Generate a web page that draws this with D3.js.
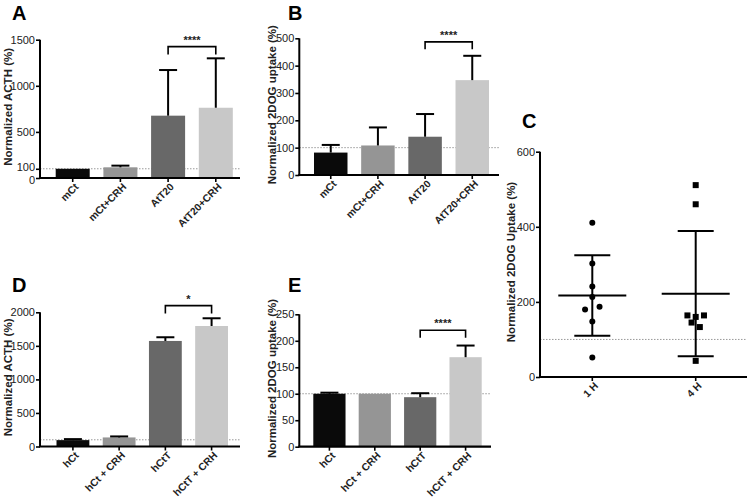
<!DOCTYPE html>
<html>
<head>
<meta charset="utf-8">
<script src="https://cdn.jsdelivr.net/npm/d3@7"></script>
<style>
  html, body { margin: 0; padding: 0; background: #fff; }
  svg { display: block; font-family: "Liberation Sans", Arial, Helvetica, sans-serif; }
</style>
</head>
<body>
<svg id="chart" width="750" height="499"></svg>
<script>
// ---------------- DATA ----------------
const catsA = ["mCt", "mCt+CRH", "AtT20", "AtT20+CRH"];
const meanA = [100, 116, 676, 762];
const errA  = [0, 18, 495, 536];
const ticksA = [0, 100, 500, 1000, 1500];

const catsB = ["mCt", "mCt+CRH", "AtT20", "AtT20+CRH"];
const meanB = [82, 108, 140, 347];
const errB  = [28, 66, 83, 89];
const ticksB = [0, 100, 200, 300, 400, 500];

const catsC = ["1 H", "4 H"];
const points1H = [411, 302, 241, 213, 180, 187, 148, 52];
const jitter1H = [0, 0, 0, 0, -0.07, 0.07, 0, 0];
const points4H = [511, 460, 164, 160, 164, 145, 133, 43];
const jitter4H = [0, 0, -0.08, 0, 0.08, -0.04, 0.04, 0];
const meanC = [217, 222];
const sdC   = [107, 167];
const ticksC = [0, 200, 400, 600];

const catsD = ["hCt", "hCt + CRH", "hCtT", "hCtT + CRH"];
const meanD = [95, 135, 1573, 1796];
const errD  = [15, 15, 55, 115];
const ticksD = [0, 500, 1000, 1500, 2000];

const catsE = ["hCt", "hCt + CRH", "hCtT", "hCtT + CRH"];
const meanE = [100, 100, 93.5, 169];
const errE  = [2, 0, 7.5, 22];
const ticksE = [0, 50, 100, 150, 200, 250];

const barColors = ["#0a0a0a", "#959595", "#686868", "#c8c8c8"];

// ---------------- DRAW ----------------
const svg = d3.select("#chart");

function yAxis(g, y, ticks, x0) {
  const ax = g.append("g").attr("transform", `translate(${x0},0)`)
    .call(d3.axisLeft(y).tickValues(ticks).tickSize(4).tickPadding(1).tickFormat(d3.format("d")));
  ax.select(".domain").attr("stroke", "#000").attr("stroke-width", 2)
    .attr("d", `M0,${y.range()[0]}V${y.range()[1]}`);
  ax.selectAll(".tick line").attr("stroke", "#000").attr("stroke-width", 1.6);
  ax.selectAll(".tick text").attr("fill", "#222").attr("font-size", 11);
  return ax;
}

function xAxisLine(g, x0, x1, y0) {
  g.append("line").attr("x1", x0 - 1).attr("x2", x1).attr("y1", y0).attr("y2", y0)
    .attr("stroke", "#000").attr("stroke-width", 2.2);
}

function xLabels(g, cats, xc, y0) {
  cats.forEach((c, i) => {
    const cx = xc(c);
    g.append("line").attr("x1", cx).attr("x2", cx).attr("y1", y0).attr("y2", y0 + 4)
      .attr("stroke", "#000").attr("stroke-width", 1.6);
    g.append("text")
      .attr("transform", `translate(${cx + 4},${y0 + 7}) rotate(-45)`)
      .attr("text-anchor", "end").attr("dy", "0.35em")
      .attr("font-size", 10.3).attr("font-weight", "bold").attr("fill", "#222")
      .text(c);
  });
}

function yTitle(g, text, cx, cy) {
  g.append("text").attr("transform", `translate(${cx},${cy}) rotate(-90)`)
    .attr("text-anchor", "middle").attr("dy", "0.35em")
    .attr("font-size", 11.5).attr("font-weight", "bold").attr("fill", "#222").text(text);
}

function panelLetter(g, text, x, y) {
  g.append("text").attr("x", x).attr("y", y).attr("font-size", 20)
    .attr("font-weight", "bold").attr("fill", "#000").text(text);
}

function refLine(g, y, x0, x1) {
  g.append("line").attr("x1", x0).attr("x2", x1).attr("y1", y(100)).attr("y2", y(100))
    .attr("stroke", "#999").attr("stroke-width", 1).attr("stroke-dasharray", "1.5,1.5");
}

function bracket(g, x, y, c1, c2, level, drop, label) {
  const xa = x(c1) + x.bandwidth() / 2, xb = x(c2) + x.bandwidth() / 2;
  const yt = y(level);
  g.append("path").attr("d", `M${xa},${yt + drop}V${yt}H${xb}V${yt + drop}`)
    .attr("fill", "none").attr("stroke", "#000").attr("stroke-width", 1.6);
  g.append("text").attr("x", (xa + xb) / 2).attr("y", yt - 3).attr("text-anchor", "middle")
    .attr("font-size", 11).attr("font-weight", "bold").attr("fill", "#222").text(label);
}

function barPanel(opt) {
  const g = svg.append("g");
  const y = d3.scaleLinear().domain(opt.domain).range([opt.yBottom, opt.yTop]);
  const x = d3.scaleBand().domain(opt.cats)
    .range([opt.bandStart, opt.bandEnd]).paddingInner(opt.pad).paddingOuter(0);
  const xc = c => x(c) + x.bandwidth() / 2;

  refLine(g, y, opt.x0, opt.x1);

  g.selectAll("rect.bar").data(opt.cats).join("rect")
    .attr("x", c => x(c)).attr("width", x.bandwidth())
    .attr("y", (c, i) => y(opt.mean[i]))
    .attr("height", (c, i) => y(0) - y(opt.mean[i]))
    .attr("fill", (c, i) => barColors[i]);

  opt.cats.forEach((c, i) => {
    if (opt.err[i] <= 0) return;
    const top = y(opt.mean[i] + opt.err[i]);
    g.append("line").attr("x1", xc(c)).attr("x2", xc(c))
      .attr("y1", y(opt.mean[i])).attr("y2", top)
      .attr("stroke", "#000").attr("stroke-width", 2);
    g.append("line").attr("x1", xc(c) - 9).attr("x2", xc(c) + 9)
      .attr("y1", top).attr("y2", top).attr("stroke", "#000").attr("stroke-width", 2);
  });

  const ax = yAxis(g, y, opt.ticks, opt.x0);
  if (opt.tightLow) {
    ax.selectAll(".tick text").attr("dy", d => d === 100 ? "0.12em" : d === 0 ? "0.5em" : "0.32em");
  }
  xAxisLine(g, opt.x0, opt.x1, y(0));
  xLabels(g, opt.cats, xc, y(0));
  yTitle(g, opt.title, opt.titleX, (opt.yTop + opt.yBottom) / 2 - 2);
  panelLetter(g, opt.letter, opt.letterX, opt.letterY);
  bracket(g, x, y, opt.cats[opt.br[0]], opt.cats[opt.br[1]], opt.brLevel, opt.brDrop, opt.brLabel);
}

barPanel({ cats: catsA, mean: meanA, err: errA, ticks: ticksA, domain: [0, 1500],
  yBottom: 178, yTop: 39.7, x0: 40, x1: 240, bandStart: 55.7, bandEnd: 232.8, pad: 0.287,
  title: "Normalized ACTH (%)", titleX: 8, letter: "A", letterX: 12, letterY: 20,
  br: [2, 3], brLevel: 1425, brDrop: 8, brLabel: "****", tightLow: true });

barPanel({ cats: catsB, mean: meanB, err: errB, ticks: ticksB, domain: [0, 500],
  yBottom: 175, yTop: 38.3, x0: 299.3, x1: 499, bandStart: 314, bandEnd: 489, pad: 0.29,
  title: "Normalized 2DOG uptake (%)", titleX: 272, letter: "B", letterX: 288, letterY: 20,
  br: [2, 3], brLevel: 487, brDrop: 7.5, brLabel: "****" });

barPanel({ cats: catsD, mean: meanD, err: errD, ticks: ticksD, domain: [0, 2000],
  yBottom: 446.5, yTop: 312.3, x0: 40, x1: 240, bandStart: 56.5, bandEnd: 228, pad: 0.29,
  title: "Normalized ACTH (%)", titleX: 8, letter: "D", letterX: 12, letterY: 292,
  br: [2, 3], brLevel: 2100, brDrop: 8, brLabel: "*" });

barPanel({ cats: catsE, mean: meanE, err: errE, ticks: ticksE, domain: [0, 250],
  yBottom: 446.7, yTop: 314.3, x0: 299.3, x1: 491, bandStart: 313.3, bandEnd: 481.7, pad: 0.29,
  title: "Normalized 2DOG uptake (%)", titleX: 272, letter: "E", letterX: 288, letterY: 292,
  br: [2, 3], brLevel: 220, brDrop: 7.5, brLabel: "****" });

// ---------------- PANEL C (scatter) ----------------
(function () {
  const g = svg.append("g");
  const x0 = 540, x1 = 747;
  const y = d3.scaleLinear().domain([0, 600]).range([377, 151.7]);
  const x = d3.scalePoint().domain(catsC).range([592.3, 695.7]);
  const unit = x.step(); // pixels per category

  refLine(g, y, x0, x1);

  const jit = [jitter1H, jitter4H];

  // mean ± SD
  catsC.forEach((c, i) => {
    const cx = x(c);
    g.append("line").attr("x1", cx).attr("x2", cx)
      .attr("y1", y(meanC[i] - sdC[i])).attr("y2", y(meanC[i] + sdC[i]))
      .attr("stroke", "#000").attr("stroke-width", 2);
    [meanC[i] - sdC[i], meanC[i] + sdC[i]].forEach(v => {
      g.append("line").attr("x1", cx - 18).attr("x2", cx + 18).attr("y1", y(v)).attr("y2", y(v))
        .attr("stroke", "#000").attr("stroke-width", 2);
    });
    g.append("line").attr("x1", cx - 34).attr("x2", cx + 34).attr("y1", y(meanC[i])).attr("y2", y(meanC[i]))
      .attr("stroke", "#000").attr("stroke-width", 2);
  });

  g.selectAll("circle.p1").data(points1H).join("circle")
    .attr("cx", (d, i) => x(catsC[0]) + jit[0][i] * unit)
    .attr("cy", d => y(d)).attr("r", 3).attr("fill", "#000");

  g.selectAll("rect.p4").data(points4H).join("rect")
    .attr("x", (d, i) => x(catsC[1]) + jit[1][i] * unit - 3)
    .attr("y", d => y(d) - 3).attr("width", 6).attr("height", 6).attr("fill", "#000");

  yAxis(g, y, ticksC, x0);
  xAxisLine(g, x0, x1, y(0));
  xLabels(g, catsC, c => x(c), y(0));
  yTitle(g, "Normalized 2DOG Uptake (%)", 511, 262);
  panelLetter(g, "C", 522, 128);
})();
</script>
</body>
</html>
